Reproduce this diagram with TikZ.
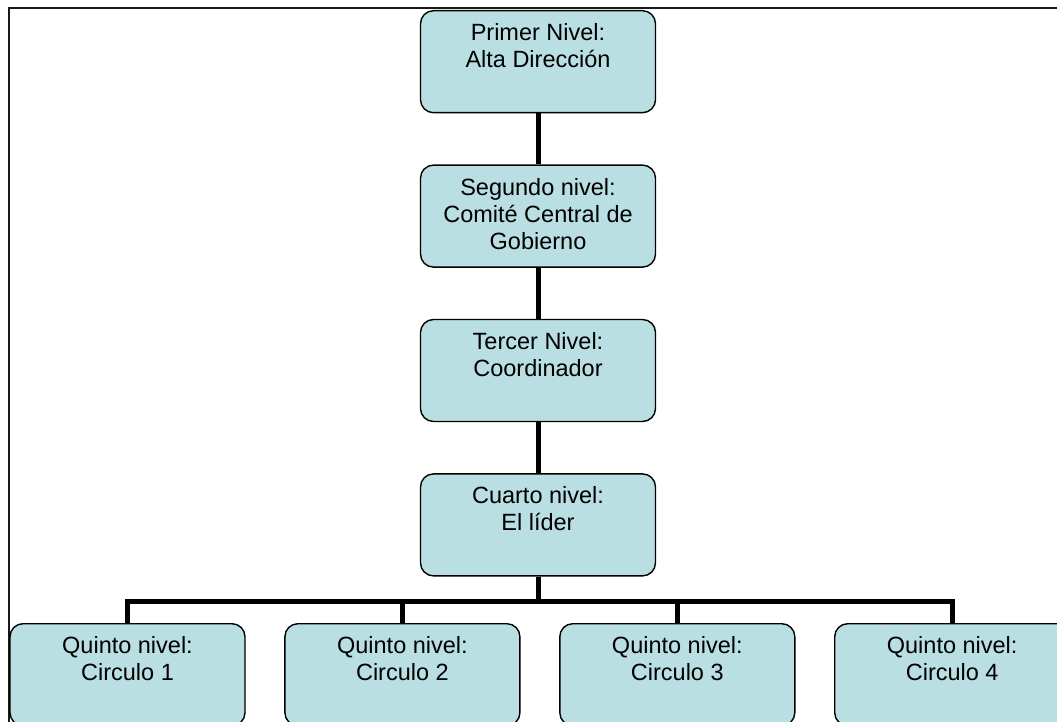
\documentclass[tikz,border=0pt]{standalone}
\usepackage{fontspec}
\setmainfont{Liberation Sans}
\usepackage{tikz}
\usepackage{xcolor}
\usetikzlibrary{calc,positioning}
\definecolor{NivelFill}{HTML}{B9DFE3}
\newcommand{\nivtxt}[1]{\parbox[t][76pt][t]{225pt}{\centering #1}}
\tikzset{
  nivel/.style={draw=black, fill=NivelFill, line width=1.4pt, rounded corners=13pt, inner xsep=5pt, inner ysep=13pt, font=\fontsize{23.5}{27}\selectfont, anchor=north},
  linea/.style={line width=5pt, draw=black},
  marco/.style={line width=2pt, draw=black!90}
}

\begin{document}
\begin{tikzpicture}[x=1pt, y=-1pt, node distance=51pt and 38.5pt]
  \useasboundingbox (0,0) rectangle (1057,722);
  \clip (0,0) rectangle (1057,722);
  \fill[white] (0,0) rectangle (1057,722);
  \draw[marco] (9,760) -- (9,8.5) -- (1100,8.5);
  \node[nivel] (n1) at (538,10) {\nivtxt{Primer Nivel:\\Alta Dirección}};
  \node[nivel, below=of n1] (n2) {\nivtxt{Segundo nivel:\\Comité Central de\\Gobierno}};
  \node[nivel, below=of n2] (n3) {\nivtxt{Tercer Nivel:\\Coordinador}};
  \node[nivel, below=of n3] (lider) {\nivtxt{Cuarto nivel:\\El líder}};
  \node[nivel] (q1) at (127.5,623) {\nivtxt{Quinto nivel:\\Circulo 1}};
  \node[nivel, right=of q1.north east, anchor=north west] (q2) {\nivtxt{Quinto nivel:\\Circulo 2}};
  \node[nivel, right=of q2.north east, anchor=north west] (q3) {\nivtxt{Quinto nivel:\\Circulo 3}};
  \node[nivel, right=of q3.north east, anchor=north west] (q4) {\nivtxt{Quinto nivel:\\Circulo 4}};
  \draw[linea] (n1) -- (n2);
  \draw[linea] (n2) -- (n3);
  \draw[linea] (n3) -- (lider);
  \foreach \q in {q1,q2,q3,q4}
    \draw[linea] (lider.south) -- ++(0,25) -| (\q.north);
\end{tikzpicture}
\end{document}
